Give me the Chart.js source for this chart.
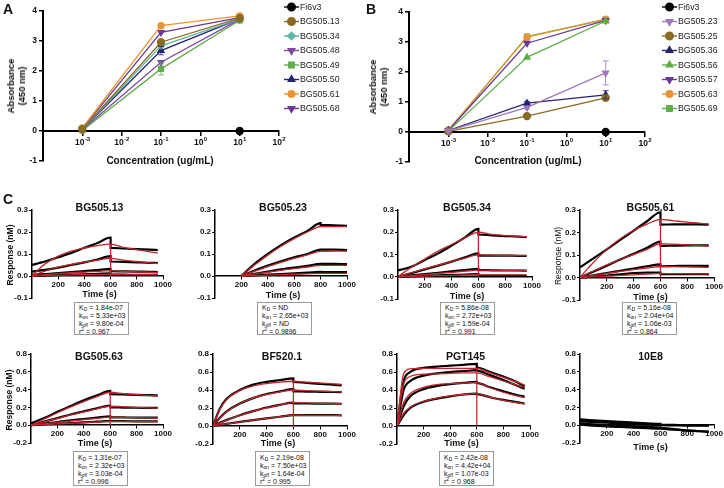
<!DOCTYPE html>
<html>
<head>
<meta charset="utf-8">
<script src="https://cdn.jsdelivr.net/npm/chart.js@4.4.0/dist/chart.umd.min.js"></script>
<style>
  body { margin: 0; background: #fff; width: 724px; height: 488px; position: relative; overflow: hidden;
         font-family: "Liberation Sans", Arial, sans-serif; color: #111; }
  canvas { position: absolute; left: 0; top: 0; }
  .t { position: absolute; white-space: nowrap; transform: translate(-50%, -50%); }
  .letter { position: absolute; font-weight: bold; font-size: 14px; }
  .ttl { font-weight: bold; font-size: 10.5px; }
  .xt { font-weight: bold; font-size: 9px; }
  .yt { font-weight: bold; font-size: 8.5px; transform: translate(-50%, -50%) rotate(-90deg); }
  .box { position: absolute; border: 1px solid #9a9a9a; font-size: 7px; line-height: 8.1px;
         padding: 0 0 0 4px; box-sizing: border-box; background: #fff; }
  .box sub, .box sup { font-size: 5px; line-height: 0; position: relative; vertical-align: baseline; }
  .box sub { top: 1.5px; }
  .box sup { top: -2.5px; }
</style>
</head>
<body>
<canvas id="cA" width="724" height="488"></canvas>
<canvas id="cB" width="724" height="488"></canvas>
<canvas id="c1" width="724" height="488"></canvas>
<canvas id="c2" width="724" height="488"></canvas>
<canvas id="c3" width="724" height="488"></canvas>
<canvas id="c4" width="724" height="488"></canvas>
<canvas id="c5" width="724" height="488"></canvas>
<canvas id="c6" width="724" height="488"></canvas>
<canvas id="c7" width="724" height="488"></canvas>
<canvas id="c8" width="724" height="488"></canvas>

<div class="letter" style="left:3px;top:1px">A</div>
<div class="letter" style="left:366px;top:1px">B</div>
<div class="letter" style="left:3px;top:191px">C</div>

<div class="t xt" style="left:160px;top:160px;font-size:10px">Concentration (ug/mL)</div>
<div class="t xt" style="left:528px;top:160px;font-size:10px">Concentration (ug/mL)</div>
<div class="t yt" style="left:16px;top:86px;font-size:9.5px;text-align:center;line-height:11px">Absorbance<br>(450 nm)</div>
<div class="t yt" style="left:378px;top:87px;font-size:9.5px;text-align:center;line-height:11px">Absorbance<br>(450 nm)</div>

<div id="texts"></div>

<script>
// ---------- panel A / B : ELISA ----------
const concentrations = [1e-3, 1e-1, 1e1];
const concTicks = [1e-4, 1e-3, 1e-2, 1e-1, 1e0, 1e1, 1e2];
const concTickExps = [null, '-3', '-2', '-1', '0', '1', '2'];
const absTicks = [-1, 0, 1, 2, 3, 4];

const namesA = ['Fi6v3', 'BG505.13', 'BG505.34', 'BG505.48', 'BG505.49', 'BG505.50', 'BG505.61', 'BG505.68'];
const absA_Fi6v3 = [null, null, 0];
const absA_13 = [0.06, 2.96, 3.76];
const absA_34 = [0.05, 2.84, 3.73];
const absA_48 = [0.04, 2.29, 3.72];
const absA_49 = [0.02, 2.07, 3.69];
const absA_50 = [0.05, 2.68, 3.74];
const absA_61 = [0.10, 3.51, 3.84];
const absA_68 = [0.08, 3.29, 3.78];
const errA_49 = [0, 0.20, 0];
const errA_50 = [0, 0.14, 0];

const namesB = ['Fi6v3', 'BG505.23', 'BG505.25', 'BG505.36', 'BG505.56', 'BG505.57', 'BG505.63', 'BG505.69'];
const absB_Fi6v3 = [null, null, 0];
const absB_23 = [0.04, 0.82, 1.97];
const absB_25 = [0.02, 0.53, 1.14];
const absB_36 = [0.05, 0.96, 1.24];
const absB_56 = [0.03, 2.49, 3.70];
const absB_57 = [0.05, 2.96, 3.72];
const absB_63 = [0.07, 3.16, 3.76];
const absB_69 = [0.03, 3.18, 3.75];
const errB_23 = [0, 0.06, 0.40];
const errB_36 = [0, 0.06, 0.14];

// ---------- panel C : sensorgrams ----------
const timeAxis = [0, 50, 100, 200, 300, 400, 500, 600, 600, 700, 800, 900, 960];
const timeAxis23 = [200, 300, 400, 500, 600, 700, 800, 800, 900, 1000];
const timeTicks = [200, 400, 600, 800, 1000];
const respTicksSmall = [-0.1, 0, 0.1, 0.2, 0.3];
const respTicksLarge = [-0.2, 0, 0.2, 0.4, 0.6, 0.8];

const bg50513Data = [
  [0.05, 0.058, 0.066, 0.085, 0.105, 0.128, 0.15, 0.175, 0.128, 0.125, 0.122, 0.12, 0.118],
  [0.02, 0.024, 0.028, 0.038, 0.05, 0.062, 0.075, 0.09, 0.066, 0.064, 0.062, 0.06, 0.059],
  [0.005, 0.007, 0.009, 0.013, 0.018, 0.022, 0.027, 0.032, 0.022, 0.021, 0.02, 0.019, 0.018],
  [0, 0.001, 0.002, 0.004, 0.006, 0.008, 0.01, 0.012, 0.006, 0.006, 0.005, 0.005, 0.005]
];
const bg50513Fit = [
  [0, 0.03, 0.055, 0.09, 0.113, 0.128, 0.138, 0.145, 0.145, 0.13, 0.12, 0.11, 0.104],
  [0, 0.012, 0.022, 0.04, 0.053, 0.063, 0.072, 0.08, 0.08, 0.072, 0.066, 0.06, 0.056],
  [0, 0.003, 0.006, 0.011, 0.015, 0.018, 0.021, 0.024, 0.024, 0.021, 0.019, 0.017, 0.015],
  [0, 0.001, 0.002, 0.003, 0.005, 0.006, 0.007, 0.008, 0.008, 0.007, 0.006, 0.006, 0.005]
];
const bg50523Data = [
  [0, 0.055, 0.1, 0.14, 0.175, 0.205, 0.24, 0.232, 0.23, 0.228],
  [0, 0.025, 0.047, 0.067, 0.085, 0.1, 0.12, 0.12, 0.12, 0.118],
  [0, 0.01, 0.02, 0.03, 0.038, 0.046, 0.055, 0.055, 0.055, 0.054],
  [0, 0.003, 0.006, 0.009, 0.012, 0.015, 0.019, 0.018, 0.018, 0.018]
];
const bg50523Fit = [
  [0, 0.05, 0.095, 0.135, 0.17, 0.2, 0.225, 0.225, 0.224, 0.224],
  [0, 0.022, 0.043, 0.062, 0.08, 0.096, 0.112, 0.112, 0.113, 0.113],
  [0, 0.009, 0.018, 0.026, 0.034, 0.041, 0.048, 0.048, 0.048, 0.048],
  [0, 0.002, 0.004, 0.006, 0.008, 0.01, 0.012, 0.012, 0.012, 0.012]
];
const bg50534Data = [
  [0.028, 0.036, 0.045, 0.075, 0.105, 0.14, 0.177, 0.215, 0.19, 0.186, 0.183, 0.18, 0.178],
  [0, 0.008, 0.016, 0.033, 0.05, 0.068, 0.087, 0.105, 0.095, 0.095, 0.095, 0.094, 0.094],
  [0, 0.003, 0.006, 0.012, 0.018, 0.024, 0.03, 0.036, 0.03, 0.029, 0.028, 0.028, 0.027],
  [0, 0.001, 0.002, 0.004, 0.006, 0.008, 0.01, 0.012, 0.006, 0.005, 0.005, 0.005, 0.004]
];
const bg50534Fit = [
  [0, 0.022, 0.043, 0.08, 0.115, 0.145, 0.175, 0.2, 0.2, 0.19, 0.185, 0.181, 0.18],
  [0, 0.009, 0.018, 0.035, 0.052, 0.068, 0.084, 0.098, 0.098, 0.097, 0.096, 0.095, 0.095],
  [0, 0.003, 0.005, 0.01, 0.015, 0.02, 0.025, 0.03, 0.03, 0.029, 0.029, 0.028, 0.028],
  [0, 0.001, 0.002, 0.003, 0.005, 0.006, 0.008, 0.009, 0.009, 0.008, 0.008, 0.008, 0.008]
];
const bg50561Data = [
  [0.045, 0.065, 0.085, 0.125, 0.167, 0.208, 0.25, 0.29, 0.235, 0.236, 0.236, 0.236, 0.235],
  [0, 0.013, 0.026, 0.052, 0.08, 0.105, 0.132, 0.16, 0.14, 0.142, 0.143, 0.143, 0.143],
  [0, 0.005, 0.01, 0.02, 0.03, 0.04, 0.05, 0.058, 0.05, 0.051, 0.052, 0.052, 0.052],
  [0, 0.002, 0.004, 0.009, 0.014, 0.02, 0.022, 0.022, 0.015, 0.015, 0.015, 0.015, 0.014]
];
const bg50561Fit = [
  [0, 0.035, 0.067, 0.125, 0.172, 0.21, 0.237, 0.258, 0.258, 0.252, 0.246, 0.241, 0.237],
  [0, 0.015, 0.029, 0.056, 0.08, 0.103, 0.125, 0.15, 0.15, 0.148, 0.145, 0.142, 0.14],
  [0, 0.005, 0.009, 0.018, 0.027, 0.035, 0.042, 0.049, 0.049, 0.048, 0.047, 0.046, 0.045],
  [0, 0.002, 0.003, 0.006, 0.009, 0.012, 0.015, 0.018, 0.018, 0.017, 0.017, 0.016, 0.016]
];
const bg50563Data = [
  [0.02, 0.05, 0.08, 0.15, 0.215, 0.28, 0.335, 0.385, 0.35, 0.345, 0.34, 0.337, 0.335],
  [0, 0.02, 0.04, 0.08, 0.12, 0.155, 0.19, 0.22, 0.2, 0.198, 0.196, 0.195, 0.194],
  [0, 0.009, 0.018, 0.036, 0.054, 0.07, 0.086, 0.1, 0.088, 0.087, 0.086, 0.085, 0.085],
  [0, 0.004, 0.008, 0.016, 0.024, 0.032, 0.04, 0.048, 0.045, 0.045, 0.044, 0.044, 0.044]
];
const bg50563Fit = [
  [0, 0.035, 0.07, 0.14, 0.205, 0.265, 0.32, 0.37, 0.37, 0.355, 0.343, 0.333, 0.326],
  [0, 0.019, 0.038, 0.077, 0.115, 0.15, 0.184, 0.215, 0.215, 0.207, 0.2, 0.195, 0.19],
  [0, 0.008, 0.016, 0.032, 0.048, 0.063, 0.077, 0.09, 0.09, 0.087, 0.085, 0.082, 0.08],
  [0, 0.004, 0.008, 0.015, 0.022, 0.029, 0.036, 0.043, 0.043, 0.042, 0.041, 0.04, 0.039]
];
const bf5201Data = [
  [0, 0.19, 0.3, 0.4, 0.46, 0.49, 0.51, 0.53, 0.49, 0.478, 0.468, 0.458, 0.452],
  [0, 0.09, 0.16, 0.25, 0.31, 0.355, 0.385, 0.41, 0.385, 0.382, 0.38, 0.378, 0.376],
  [0, 0.035, 0.065, 0.12, 0.165, 0.205, 0.235, 0.26, 0.25, 0.25, 0.249, 0.248, 0.247],
  [0, 0.012, 0.023, 0.045, 0.066, 0.085, 0.103, 0.12, 0.12, 0.12, 0.12, 0.12, 0.119]
];
const bf5201Fit = [
  [0, 0.18, 0.29, 0.395, 0.445, 0.472, 0.488, 0.497, 0.497, 0.487, 0.477, 0.468, 0.462],
  [0, 0.085, 0.155, 0.25, 0.31, 0.35, 0.38, 0.4, 0.4, 0.394, 0.388, 0.382, 0.378],
  [0, 0.033, 0.063, 0.117, 0.163, 0.202, 0.233, 0.26, 0.26, 0.256, 0.252, 0.249, 0.246],
  [0, 0.012, 0.023, 0.045, 0.066, 0.085, 0.103, 0.12, 0.12, 0.119, 0.118, 0.117, 0.116]
];
const pgt145Data = [
  [0, 0.5, 0.6, 0.645, 0.66, 0.67, 0.68, 0.69, 0.65, 0.6, 0.55, 0.49, 0.44],
  [0, 0.4, 0.5, 0.56, 0.585, 0.6, 0.61, 0.62, 0.615, 0.565, 0.51, 0.45, 0.415],
  [0, 0.22, 0.33, 0.41, 0.445, 0.465, 0.48, 0.49, 0.48, 0.43, 0.385, 0.345, 0.325],
  [0, 0.12, 0.2, 0.27, 0.305, 0.33, 0.35, 0.36, 0.355, 0.32, 0.29, 0.265, 0.25]
];
const pgt145Fit = [
  [0, 0.58, 0.635, 0.64, 0.64, 0.64, 0.64, 0.64, 0.64, 0.59, 0.54, 0.49, 0.455],
  [0, 0.47, 0.55, 0.575, 0.58, 0.585, 0.59, 0.59, 0.59, 0.545, 0.5, 0.455, 0.43],
  [0, 0.26, 0.36, 0.43, 0.46, 0.47, 0.478, 0.483, 0.483, 0.425, 0.375, 0.335, 0.315],
  [0, 0.14, 0.21, 0.275, 0.31, 0.335, 0.35, 0.36, 0.36, 0.32, 0.285, 0.26, 0.245]
];
const e108Data = [
  [0.065, 0.06, 0.055, 0.046, 0.038, 0.03, 0.022, 0.015, 0.005, 0.003, 0.001, 0, -0.002],
  [0.045, 0.04, 0.036, 0.028, 0.02, 0.013, 0.007, 0.002, 0, -0.002, -0.004, -0.005, -0.006],
  [0.02, 0.015, 0.01, 0.002, -0.005, -0.012, -0.018, -0.024, -0.03, -0.045, -0.058, -0.068, -0.072],
  [0.005, 0, -0.005, -0.013, -0.02, -0.027, -0.033, -0.038, -0.04, -0.05, -0.06, -0.068, -0.075]
];

// kinetic fit summaries: KD, kon, koff, r2
const kin13 = ['1.84e-07', '5.33e+03', '9.80e-04', '0.967'];
const kin23 = ['ND', '2.65e+03', 'ND', '0.9896'];
const kin34 = ['5.86e-08', '2.72e+03', '1.59e-04', '0.991'];
const kin61 = ['5.16e-08', '2.04e+04', '1.06e-03', '0.864'];
const kin63 = ['1.31e-07', '2.32e+03', '3.03e-04', '0.996'];
const kinBF = ['2.19e-08', '7.50e+03', '1.64e-04', '0.995'];
const kinPGT = ['2.42e-08', '4.42e+04', '1.07e-03', '0.968'];

// ---------- styling ----------
const W = 724, H = 488;
const FONT = '"Liberation Sans", Arial, sans-serif';
const FIT_RED = '#c0272d';

const seriesStyle = {
  'Fi6v3':    { color: '#000000', shape: 'circle' },
  'BG505.13': { color: '#8b6b22', shape: 'circle' },
  'BG505.34': { color: '#5fb5a6', shape: 'rectRot' },
  'BG505.48': { color: '#7d4a9e', shape: 'triangle', rot: 180 },
  'BG505.49': { color: '#5fae48', shape: 'rect' },
  'BG505.50': { color: '#25246f', shape: 'triangle' },
  'BG505.61': { color: '#eb9433', shape: 'circle', r: 3 },
  'BG505.68': { color: '#6c3a96', shape: 'triangle', rot: 180 },
  'BG505.23': { color: '#a278bd', shape: 'triangle', rot: 180 },
  'BG505.25': { color: '#8b6b22', shape: 'circle' },
  'BG505.36': { color: '#25246f', shape: 'triangle' },
  'BG505.56': { color: '#5fae48', shape: 'triangle' },
  'BG505.57': { color: '#6c3a96', shape: 'triangle', rot: 180 },
  'BG505.63': { color: '#eb9433', shape: 'circle', r: 3 },
  'BG505.69': { color: '#5fae48', shape: 'rect' }
};

function frame(area, yW) {
  return { left: area.l - yW, top: area.t, right: W - area.r, bottom: H - area.b };
}

const errorBarPlugin = {
  id: 'errorBars',
  afterDatasetsDraw(chart) {
    const ctx = chart.ctx, xs = chart.scales.x, ys = chart.scales.y;
    chart.data.datasets.forEach(ds => {
      if (!ds.errorBars) return;
      ds.data.forEach((p, j) => {
        const e = ds.errorBars[j];
        if (!e || p.y == null) return;
        const x = xs.getPixelForValue(p.x);
        const y1 = ys.getPixelForValue(p.y + e), y2 = ys.getPixelForValue(p.y - e);
        ctx.save();
        ctx.strokeStyle = ds.borderColor;
        ctx.globalAlpha = 0.8;
        ctx.lineWidth = 1;
        ctx.beginPath();
        ctx.moveTo(x, y1); ctx.lineTo(x, y2);
        ctx.moveTo(x - 3, y1); ctx.lineTo(x + 3, y1);
        ctx.moveTo(x - 3, y2); ctx.lineTo(x + 3, y2);
        ctx.stroke();
        ctx.restore();
      });
    });
  }
};

// draws "10" with a raised exponent under each decade tick of the log axis
const powerTickPlugin = {
  id: 'powerTicks',
  afterDraw(chart) {
    const ctx = chart.ctx, xs = chart.scales.x, ys = chart.scales.y;
    const base = ys.getPixelForValue(0) + 14;
    ctx.save();
    ctx.fillStyle = '#111';
    ctx.textBaseline = 'alphabetic';
    concTicks.forEach((v, i) => {
      const exp = concTickExps[i];
      if (exp == null) return;
      const x = xs.getPixelForValue(v);
      ctx.font = 'bold 8.5px ' + FONT;
      const w1 = ctx.measureText('10').width;
      ctx.font = 'bold 6px ' + FONT;
      const w2 = ctx.measureText(exp).width;
      const left = x - (w1 + w2) / 2;
      ctx.font = 'bold 8.5px ' + FONT;
      ctx.fillText('10', left, base);
      ctx.font = 'bold 6px ' + FONT;
      ctx.fillText(exp, left + w1 + 0.3, base - 4);
    });
    ctx.restore();
  }
};

const sideLegendPlugin = {
  id: 'sideLegend',
  afterDraw(chart, args, opts) {
    if (!opts || opts.x == null) return;
    const ctx = chart.ctx;
    chart.data.datasets.forEach((ds, i) => {
      const y = opts.y + i * opts.step;
      ctx.save();
      ctx.strokeStyle = ds.borderColor;
      ctx.lineWidth = 1.4;
      ctx.beginPath();
      ctx.moveTo(opts.x, y); ctx.lineTo(opts.x + 15, y);
      ctx.stroke();
      ctx.fillStyle = ds.pointBackgroundColor;
      ctx.strokeStyle = ds.borderColor;
      Chart.helpers.drawPoint(ctx, {
        pointStyle: ds.pointStyle, rotation: ds.pointRotation || 0,
        radius: ds.pointRadius + 0.3, borderWidth: 1
      }, opts.x + 7.5, y);
      ctx.fillStyle = '#222';
      ctx.font = '8.8px ' + FONT;
      ctx.textBaseline = 'middle';
      ctx.fillText(ds.label, opts.x + 16, y + 0.5);
      ctx.restore();
    });
  }
};

function elisaChart(id, area, names, values, errors, legend) {
  const datasets = names.map((n, i) => {
    const st = seriesStyle[n];
    return {
      label: n,
      data: concentrations.map((c, j) => ({ x: c, y: values[i][j] })),
      borderColor: st.color, backgroundColor: st.color,
      pointBackgroundColor: st.color, pointBorderColor: st.color,
      pointStyle: st.shape, pointRotation: st.rot || 0, pointRadius: st.r || 3.5,
      borderWidth: 1.3, tension: 0,
      errorBars: errors[i] || null
    };
  });
  return new Chart(document.getElementById(id), {
    type: 'line',
    data: { datasets },
    plugins: [errorBarPlugin, sideLegendPlugin, powerTickPlugin],
    options: {
      responsive: false, animation: false, events: [],
      layout: { padding: frame(area, 40) },
      plugins: { legend: { display: false }, tooltip: { enabled: false }, sideLegend: legend },
      scales: {
        x: {
          type: 'logarithmic', min: 1e-4, max: 1e2, position: { y: 0 },
          afterBuildTicks: s => { s.ticks = concTicks.map(v => ({ value: v })); },
          grid: { drawOnChartArea: false, drawTicks: true, tickLength: 4, color: '#000', lineWidth: 1.5 },
          border: { display: true, color: '#000', width: 2 },
          ticks: { display: false }
        },
        y: {
          min: -1, max: 4,
          afterFit: s => { s.width = 40; },
          afterBuildTicks: s => { s.ticks = absTicks.map(v => ({ value: v })); },
          grid: { drawOnChartArea: false, drawTicks: true, tickLength: 4, color: '#000', lineWidth: 1.5 },
          border: { display: true, color: '#000', width: 2 },
          ticks: { callback: v => String(v), color: '#111', padding: 2,
                   font: { family: FONT, size: 8.5, weight: 'bold' } }
        }
      }
    }
  });
}

function sensorChart(id, area, yTicks, time, data, fit, switchTime) {
  const toPts = row => time.map((t, i) => ({ x: t, y: row[i] }));
  const datasets = [];
  (fit || []).forEach(row => datasets.push({
    data: toPts(row), borderColor: FIT_RED, borderWidth: 1.3, order: 0,
    pointRadius: 0, cubicInterpolationMode: 'monotone'
  }));
  if (fit && switchTime != null) {
    const i = time.indexOf(switchTime);
    datasets.push({
      data: [{ x: switchTime, y: 0 }, { x: switchTime, y: fit[0][i] }],
      borderColor: FIT_RED, borderWidth: 1.3, order: 0, pointRadius: 0
    });
  }
  data.forEach(row => datasets.push({
    data: toPts(row), borderColor: '#000', borderWidth: 2.2, order: 1,
    pointRadius: 0, cubicInterpolationMode: 'monotone'
  }));
  return new Chart(document.getElementById(id), {
    type: 'line',
    data: { datasets },
    options: {
      responsive: false, animation: false, events: [],
      layout: { padding: frame(area, 30) },
      plugins: { legend: { display: false }, tooltip: { enabled: false } },
      scales: {
        x: {
          type: 'linear', min: 0, max: 1000, position: { y: 0 },
          afterBuildTicks: s => { s.ticks = timeTicks.map(v => ({ value: v })); },
          grid: { drawOnChartArea: false, drawTicks: true, tickLength: 3, color: '#000', lineWidth: 1 },
          border: { display: true, color: '#000', width: 1.5 },
          ticks: { callback: v => String(v), color: '#111', padding: 1,
                   font: { family: FONT, size: 8, weight: 'bold' }, maxRotation: 0, autoSkip: false }
        },
        y: {
          min: yTicks[0], max: yTicks[yTicks.length - 1],
          afterFit: s => { s.width = 30; },
          afterBuildTicks: s => { s.ticks = yTicks.map(v => ({ value: v })); },
          grid: { drawOnChartArea: false, drawTicks: true, tickLength: 3, color: '#000', lineWidth: 1 },
          border: { display: true, color: '#000', width: 1.5 },
          ticks: { callback: v => v.toFixed(1), color: '#111', padding: 1,
                   font: { family: FONT, size: 8, weight: 'bold' } }
        }
      }
    }
  });
}

elisaChart('cA', { l: 43, r: 279, t: 11, b: 161 }, namesA,
  [absA_Fi6v3, absA_13, absA_34, absA_48, absA_49, absA_50, absA_61, absA_68],
  [null, null, null, null, errA_49, errA_50, null, null],
  { x: 284, y: 7, step: 14.5 });
elisaChart('cB', { l: 409, r: 645, t: 12, b: 162 }, namesB,
  [absB_Fi6v3, absB_23, absB_25, absB_36, absB_56, absB_57, absB_63, absB_69],
  [null, errB_23, null, errB_36, null, null, null, null],
  { x: 662, y: 7, step: 14.5 });

const panelsC = [
  { id: 'c1', name: 'BG505.13', area: { l: 32, r: 163, t: 210, b: 298 }, ticks: respTicksSmall, time: timeAxis, data: bg50513Data, fit: bg50513Fit, sw: 600, kin: kin13, yTitle: 'bold' },
  { id: 'c2', name: 'BG505.23', area: { l: 215, r: 347, t: 210, b: 298 }, ticks: respTicksSmall, time: timeAxis23, data: bg50523Data, fit: bg50523Fit, sw: null, kin: kin23 },
  { id: 'c3', name: 'BG505.34', area: { l: 398, r: 532, t: 210, b: 299 }, ticks: respTicksSmall, time: timeAxis, data: bg50534Data, fit: bg50534Fit, sw: 600, kin: kin34 },
  { id: 'c4', name: 'BG505.61', area: { l: 580, r: 717, t: 210, b: 300 }, ticks: respTicksSmall, time: timeAxis, data: bg50561Data, fit: bg50561Fit, sw: 600, kin: kin61, yTitle: 'normal' },
  { id: 'c5', name: 'BG505.63', area: { l: 31, r: 163, t: 354, b: 443 }, ticks: respTicksLarge, time: timeAxis, data: bg50563Data, fit: bg50563Fit, sw: 600, kin: kin63, yTitle: 'bold' },
  { id: 'c6', name: 'BF520.1', area: { l: 213, r: 347, t: 354, b: 444 }, ticks: respTicksLarge, time: timeAxis, data: bf5201Data, fit: bf5201Fit, sw: 600, kin: kinBF },
  { id: 'c7', name: 'PGT145', area: { l: 397, r: 530, t: 354, b: 444 }, ticks: respTicksLarge, time: timeAxis, data: pgt145Data, fit: pgt145Fit, sw: 600, kin: kinPGT },
  { id: 'c8', name: '10E8', area: { l: 580, r: 717, t: 354, b: 443 }, ticks: respTicksLarge, time: timeAxis, data: e108Data, fit: null, sw: null, kin: null }
];

const texts = document.getElementById('texts');
panelsC.forEach((p, k) => {
  sensorChart(p.id, p.area, p.ticks, p.time, p.data, p.fit, p.sw);
  const row2 = k >= 4;
  const cx = (p.area.l + p.area.r) / 2 + 2;
  let html = `<div class="t ttl" style="left:${cx}px;top:${row2 ? 356 : 207}px">${p.name}</div>`;
  const tY = row2 ? (p.kin ? 443 : 447) : 294 + (k % 4) * 1;
  html += `<div class="t xt" style="left:${cx - (row2 && k < 7 ? 4 : 0)}px;top:${tY}px">Time (s)</div>`;
  if (p.yTitle) {
    html += `<div class="t yt" style="left:${p.area.l - 22}px;top:${(p.area.t + p.area.b) / 2 + 1}px;font-weight:${p.yTitle}">Response (nM)</div>`;
  }
  if (p.kin) {
    const bx = p.area.l + 42, by = row2 ? 451 : 302;
    html += `<div class="box" style="left:${bx}px;top:${by}px;width:55px;height:${row2 ? 35 : 33}px;padding-top:${row2 ? 1.5 : 0.5}px">` +
      `K<sub>D</sub> = ${p.kin[0]}<br>k<sub>on</sub> = ${p.kin[1]}<br>k<sub>off</sub> = ${p.kin[2]}<br>r<sup>2</sup> = ${p.kin[3]}</div>`;
  }
  texts.insertAdjacentHTML('beforeend', html);
});
</script>
</body>
</html>
